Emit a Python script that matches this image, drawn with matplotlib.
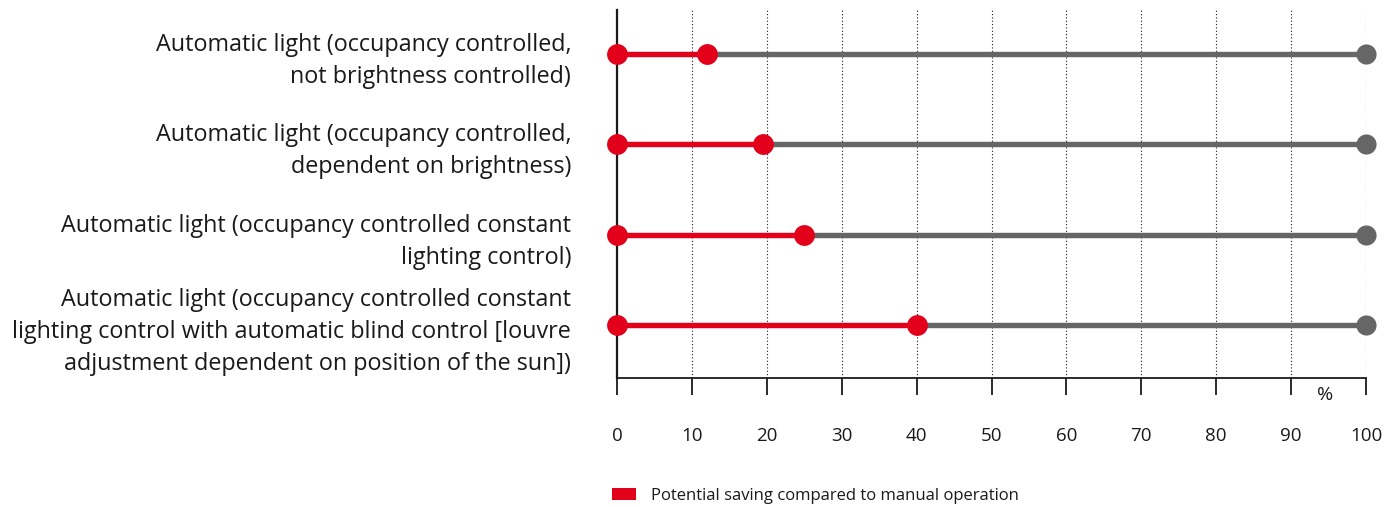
import numpy as np
import matplotlib.pyplot as plt
from matplotlib.patches import Patch

plt.rcParams['font.family'] = ['Open Sans', 'DejaVu Sans']

###############################################################################
### data
###############################################################################

categories = [
    'Automatic light (occupancy controlled,\nnot brightness controlled)',
    'Automatic light (occupancy controlled,\ndependent on brightness)',
    'Automatic light (occupancy controlled constant\nlighting control)',
    'Automatic light (occupancy controlled constant\nlighting control with automatic blind control [louvre\nadjustment dependent on position of the sun])',
]
saving = [12, 19.5, 25, 40]
total = [100, 100, 100, 100]
xticks = [0, 10, 20, 30, 40, 50, 60, 70, 80, 90, 100]
legend_label = 'Potential saving compared to manual operation'

red = '#e2001a'
grey = '#666666'
ink = '#1a1a1a'

fig = plt.figure(figsize=(13.88, 5.07), dpi=100)
ax = fig.add_axes([617 / 1388, 1 - 378 / 507, (1366 - 617) / 1388, 368 / 507])

y = np.arange(len(categories))
for yi, s, t in zip(y, saving, total):
    ax.plot([s, t], [yi, yi], color=grey, lw=3.9, solid_capstyle='butt', zorder=2)
    ax.plot([0, s], [yi, yi], color=red, lw=3.9, solid_capstyle='butt', zorder=3)
    ax.plot([t], [yi], 'o', color=grey, ms=14.5, mec='none', zorder=4, clip_on=False)
    ax.plot([0, s], [yi, yi], 'o', color=red, ms=15, mec='none', zorder=5, clip_on=False, lw=0)

ax.set_xlim(0, 100)
ax.set_ylim(len(categories) - 1 + 0.587, -0.487)

ax.set_xticks(xticks)
ax.set_xticklabels([str(v) for v in xticks], fontsize=13.5)
ax.set_yticks(y)
ax.set_yticklabels(categories, fontsize=16.8, ha='right', linespacing=1.45)

ax.tick_params(axis='x', direction='out', length=12, width=1.3, pad=23, colors=ink)
ax.tick_params(axis='y', length=0, pad=33, colors=ink)

ax.grid(axis='x', color=ink, ls=(0, (1, 2)), lw=0.8, zorder=1)

for side in ['top', 'right']:
    ax.spines[side].set_visible(False)
ax.spines['left'].set_color(ink)
ax.spines['left'].set_linewidth(1.6)
ax.spines['bottom'].set_color(ink)
ax.spines['bottom'].set_linewidth(1.3)

ax.annotate('%', xy=(94.5, 0), xycoords=('data', 'axes fraction'), xytext=(0, -6),
            textcoords='offset points', fontsize=14, ha='center', va='top',
            color=ink)

fig.legend(handles=[Patch(facecolor=red, edgecolor='none', label=legend_label)],
           loc='center left', bbox_to_anchor=(612 / 1388, 1 - 496 / 507),
           frameon=False, fontsize=12, handlelength=1.45, handleheight=0.75,
           handletextpad=0.9, borderpad=0, borderaxespad=0, labelcolor=ink)

fig.savefig('out.png', dpi=100)
